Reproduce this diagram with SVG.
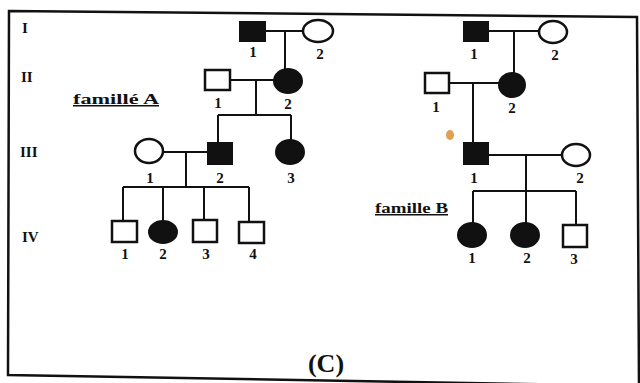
<svg xmlns="http://www.w3.org/2000/svg" width="640" height="383" viewBox="0 0 640 383">
<style>
.ln{stroke:#111;stroke-width:2;fill:none}
.o{fill:#fff;stroke:#111;stroke-width:2.5}
.f{fill:#111;stroke:#111;stroke-width:2}
.t{font-family:"Liberation Serif","Times New Roman",serif;font-weight:bold;font-size:15px;fill:#111;text-anchor:middle}
.g{font-family:"Liberation Serif","Times New Roman",serif;font-weight:bold;font-size:15px;fill:#111}
.fam{font-family:"Liberation Serif","Times New Roman",serif;font-weight:bold;font-size:15px;fill:#111;text-decoration:underline}
</style>
<rect width="640" height="383" fill="#fff"/>
<polygon points="9,11 637,17 639,386 8,375" fill="none" stroke="#111" stroke-width="2.5"/>
<g id="generations">
<text class="g" x="22" y="33">I</text>
<text class="g" x="21" y="82">II</text>
<text class="g" x="20" y="157">III</text>
<text class="g" x="22" y="242">IV</text>
</g>
<g id="connectors">
<path class="ln" d="M266,31H303M285,31V70M230,80H274M256,80V115M218,115H291M218,115V142M291,115V140M163,152H207M186,152V187M123,187H249M123,187V221M163,187V222M204,187V220M249,187V222"/>
<path class="ln" d="M488,31H539M514,31V73M449,83H499M473,83V143M488,155H563M526,155V191M473,191H576M473,191V223M526,191V223M576,191V225"/>
</g>
<g id="A-I-1"><rect class="f" x="240" y="22" width="25" height="19"/><text class="t" x="253" y="57">1</text></g>
<g id="A-I-2"><ellipse class="o" cx="318" cy="31" rx="15" ry="11"/><text class="t" x="320" y="59">2</text></g>
<g id="A-II-1"><rect class="o" x="205" y="70" width="25" height="20"/><text class="t" x="218" y="108">1</text></g>
<g id="A-II-2"><ellipse class="f" cx="288" cy="81" rx="14" ry="12"/><text class="t" x="288" y="109">2</text></g>
<g id="A-III-1"><ellipse class="o" cx="149" cy="151" rx="14" ry="12"/><text class="t" x="150" y="183">1</text></g>
<g id="A-III-2"><rect class="f" x="208" y="143" width="24" height="21"/><text class="t" x="220" y="183">2</text></g>
<g id="A-III-3"><ellipse class="f" cx="290" cy="152" rx="14" ry="12"/><text class="t" x="291" y="183">3</text></g>
<g id="A-IV-1"><rect class="o" x="112" y="221" width="25" height="21"/><text class="t" x="125" y="259">1</text></g>
<g id="A-IV-2"><ellipse class="f" cx="163" cy="232" rx="14" ry="11"/><text class="t" x="163" y="259">2</text></g>
<g id="A-IV-3"><rect class="o" x="193" y="220" width="24" height="22"/><text class="t" x="206" y="259">3</text></g>
<g id="A-IV-4"><rect class="o" x="239" y="222" width="25" height="21"/><text class="t" x="253" y="259">4</text></g>
<g id="label-A"><text class="fam" x="73" y="104" textLength="86" lengthAdjust="spacingAndGlyphs">famillé A</text></g>
<g id="B-I-1"><rect class="f" x="464" y="22" width="24" height="19"/><text class="t" x="474" y="59">1</text></g>
<g id="B-I-2"><ellipse class="o" cx="553" cy="32" rx="14" ry="11"/><text class="t" x="555" y="60">2</text></g>
<g id="B-II-1"><rect class="o" x="425" y="73" width="24" height="20"/><text class="t" x="436" y="112">1</text></g>
<g id="B-II-2"><ellipse class="f" cx="512" cy="85" rx="13" ry="12"/><text class="t" x="512" y="113">2</text></g>
<g id="B-III-1"><rect class="f" x="464" y="143" width="24" height="21"/><text class="t" x="474" y="183">1</text></g>
<g id="B-III-2"><ellipse class="o" cx="576" cy="155" rx="14" ry="11"/><text class="t" x="580" y="183">2</text></g>
<g id="B-IV-1"><ellipse class="f" cx="472" cy="235" rx="14" ry="12"/><text class="t" x="472" y="263">1</text></g>
<g id="B-IV-2"><ellipse class="f" cx="525" cy="235" rx="14" ry="12"/><text class="t" x="527" y="263">2</text></g>
<g id="B-IV-3"><rect class="o" x="563" y="225" width="24" height="22"/><text class="t" x="574" y="264">3</text></g>
<g id="label-B"><text class="fam" x="375" y="213" textLength="73" lengthAdjust="spacingAndGlyphs">famille B</text></g>
<ellipse cx="450" cy="135" rx="4" ry="5" fill="#e0a050"/>
<text x="326" y="372" style="font-family:'Liberation Serif','Times New Roman',serif;font-weight:bold;font-size:26px;fill:#111;text-anchor:middle">(C)</text>
</svg>
